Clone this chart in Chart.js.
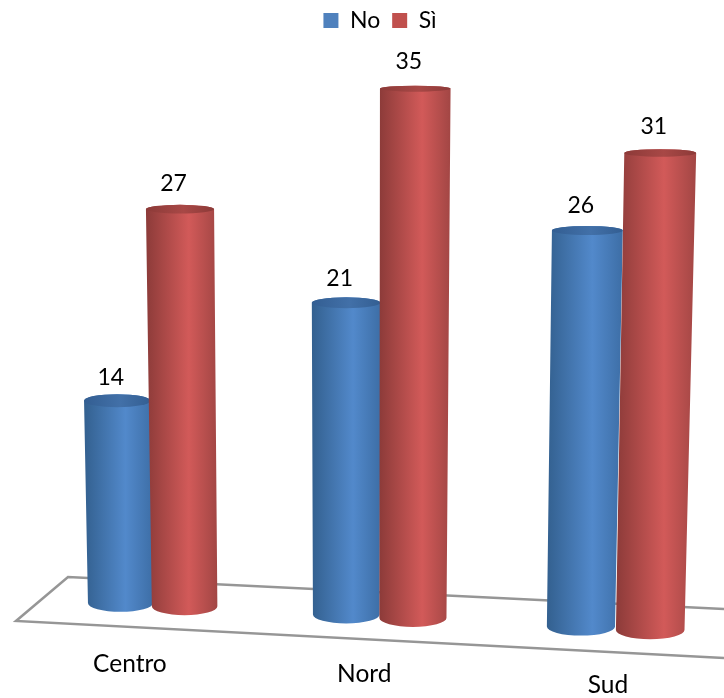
<!DOCTYPE html>
<html>
<head>
<meta charset="utf-8">
<title>No / Sì</title>
<script src="https://cdn.jsdelivr.net/npm/chart.js@4"></script>
<style>
    body { margin: 0; background: #fff; }
    canvas { display: block; }
</style>
</head>
<body>
<canvas id="cylChart" width="724" height="698"></canvas>
<script>
// Chart data
const categories = ['Centro', 'Nord', 'Sud'];
const noValues = [14, 21, 26];
const siValues = [27, 35, 31];

const valueFont = '23px Lato';
const categoryFont = '24.5px Lato';

// Shading per series: left edge, highlight, right edge, lid centre, lid edge
const bluePalette = { left: '#33608f', mid: '#5289cb', right: '#3d6ea6', lid: '#4270a8', lidEdge: '#335e92' };
const redPalette = { left: '#8c3b39', mid: '#d25a59', right: '#a24644', lid: '#a84846', lidEdge: '#8c3a38' };

// Perspective helpers: take positions from the bar elements and tilt them on the floor
const floorX = x => {
    const d = x - 380;
    return 379.5 + d * (1.0095 + d * 0.000085);
};
const floorY = (x, base) => base - 17 + (x - 120) * 0.051;
const radiusAt = (x, width) => width / 2 * 1.012 * (1 + (x - 380) * 0.0001);
const unitPx = (x, value) => 14.27 + (x - 120) * 0.00135 + value * 0.013;
const rimAt = y => 3 + (y - 90) * 0.0113;

const drawCylinder = (ctx, bar, chart, palette) => {
    const yScale = chart.scales.y;
    const scaleUnit = yScale.getPixelForValue(0) - yScale.getPixelForValue(1);
    const value = Math.round(yScale.getValueForPixel(bar.y));
    const x = floorX(bar.x);
    const y = floorY(x, bar.base);
    const r = radiusAt(bar.x, bar.width);
    const h = (bar.base - bar.y) * unitPx(x, value) / scaleUnit;

    const topX = 350 + (x - 350) * (1 + h * 0.00007);
    const topY = y - h;
    const topR = r * (1 + h * 0.0001);

    const left = Math.min(x - r, topX - topR);
    const right = Math.max(x + r, topX + topR);
    const body = ctx.createLinearGradient(left, 0, right, 0);
    body.addColorStop(0, palette.left);
    body.addColorStop(0.6, palette.mid);
    body.addColorStop(1, palette.right);

    ctx.beginPath();
    ctx.moveTo(topX - topR, topY);
    ctx.lineTo(x - r, y);
    ctx.ellipse(x, y, r, rimAt(y), 0, Math.PI, 0, true);
    ctx.lineTo(topX + topR, topY);
    ctx.ellipse(topX, topY, topR, rimAt(topY), 0, 0, Math.PI, true);
    ctx.closePath();
    ctx.fillStyle = body;
    ctx.fill();

    const lid = ctx.createLinearGradient(topX - topR, 0, topX + topR, 0);
    lid.addColorStop(0, palette.lidEdge);
    lid.addColorStop(0.55, palette.lid);
    lid.addColorStop(1, palette.lidEdge);
    ctx.beginPath();
    ctx.ellipse(topX, topY, topR, rimAt(topY), 0, 0, Math.PI * 2);
    ctx.fillStyle = lid;
    ctx.fill();

    // Value label above the lid
    ctx.fillStyle = '#000';
    ctx.font = valueFont;
    ctx.textAlign = 'center';
    ctx.textBaseline = 'alphabetic';
    ctx.fillText(String(value), topX - 6.5, topY - 14 - h * 0.01);
};

// Draws the tilted floor, the cylinders and the category names
const cylinderPlugin = {
    id: 'cylinders',
    beforeDatasetsDraw(chart) {
        const ctx = chart.ctx;
        ctx.save();
        ctx.strokeStyle = '#969696';
        ctx.lineWidth = 2.5;
        ctx.beginPath();
        ctx.moveTo(724, 609);
        ctx.lineTo(68, 577);
        ctx.lineTo(16, 621);
        ctx.lineTo(724, 658);
        ctx.stroke();
        ctx.restore();
    },
    beforeDatasetDraw() {
        return false;
    },
    afterDatasetsDraw(chart) {
        const ctx = chart.ctx;
        const palettes = [bluePalette, redPalette];
        ctx.save();
        categories.forEach((name, i) => {
            palettes.forEach((palette, d) => {
                drawCylinder(ctx, chart.getDatasetMeta(d).data[i], chart, palette);
            });
        });

        const xScale = chart.scales.x;
        ctx.fillStyle = '#000';
        ctx.font = categoryFont;
        ctx.textAlign = 'center';
        ctx.textBaseline = 'alphabetic';
        categories.forEach((name, i) => {
            const x = floorX(xScale.getPixelForTick(i));
            ctx.fillText(xScale.getLabelForValue(i), x - 27.5 + x * 0.0324, 672 + (x - 152.5) * 0.0456);
        });
        ctx.restore();
    }
};

new Chart(document.getElementById('cylChart').getContext('2d'), {
    type: 'bar',
    data: {
        labels: categories,
        datasets: [
            { label: 'No', data: noValues, backgroundColor: '#4f81bd' },
            { label: 'Sì', data: siValues, backgroundColor: '#c0504d' },
        ],
    },
    options: {
        responsive: false,
        animation: false,
        layout: { padding: { left: 36, right: 0, top: -3, bottom: 78 } },
        datasets: { bar: { categoryPercentage: 0.576, barPercentage: 1 } },
        scales: {
            x: { display: false },
            y: { display: false, min: 0, max: 40 },
        },
        plugins: {
            tooltip: { enabled: false },
            legend: {
                position: 'top',
                labels: {
                    boxWidth: 15,
                    boxHeight: 15,
                    padding: 12,
                    color: '#000',
                    font: { family: 'Lato', size: 23 },
                },
            },
        },
    },
    plugins: [cylinderPlugin],
});
</script>
</body>
</html>
